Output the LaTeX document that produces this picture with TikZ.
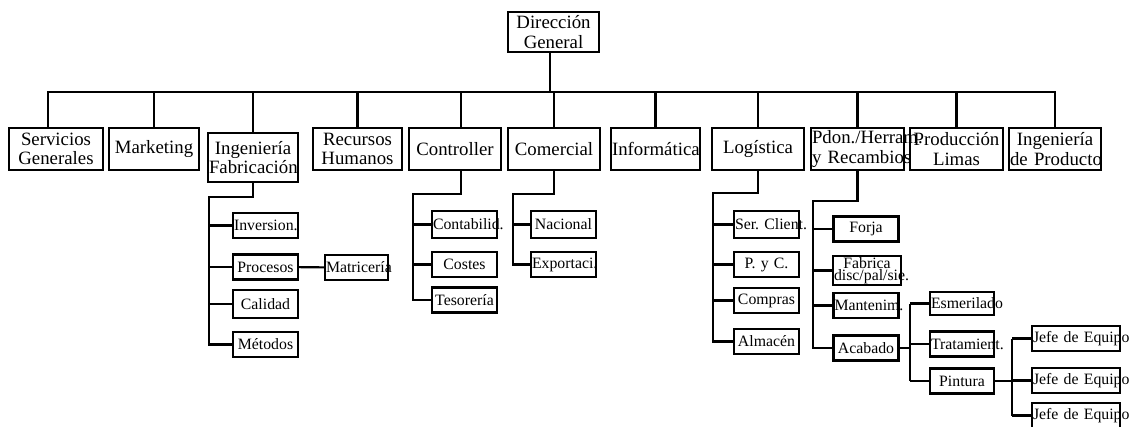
\documentclass[tikz,border=0pt]{standalone}
\usepackage{fontspec}
\setmainfont{Liberation Serif}
\usetikzlibrary{positioning}

\begin{document}
\begin{tikzpicture}[
    x=1pt, y=-1pt,
    every node/.style={inner sep=1pt},
    link/.style={draw=black, line width=2.1pt},
    unitbox/.style={
        rectangle, draw=black, line width=2.1pt, align=center,
        minimum width=92pt, minimum height=42pt, text width=90pt,
        font=\fontsize{18.8}{19.5}\selectfont,
        execute at begin node={\hyphenpenalty=10000\relax\frenchspacing}
    },
    subbox/.style={
        rectangle, draw=black, line width=2.1pt, align=center,
        minimum width=65pt, minimum height=25pt, text width=63pt,
        font=\fontsize{15.8}{16}\selectfont,
        execute at begin node={\hyphenpenalty=10000\relax\frenchspacing}
    }
]
\useasboundingbox[fill=white] (0,0) rectangle (1130,426);

% Top
\node[unitbox, minimum width=91pt, text width=89pt, minimum height=40pt] (dg) at (553.5,32) {Dirección\\General};

% Row 1
\node[unitbox, minimum width=94pt, text width=92pt] (sg) at (56,149) {Servicios\\Generales};
\node[unitbox, minimum width=90pt, text width=88pt] (mk) at (154,149) {Marketing};
\node[unitbox, minimum width=90pt, text width=88pt, minimum height=49pt] (ingf) at (253,157.5) {Ingeniería\\Fabricación};
\node[unitbox, minimum width=89pt, text width=87pt] (rrhh) at (357.5,149) {Recursos\\Humanos};
\node[unitbox] (ctrl) at (455,149) {Controller};
\node[unitbox] (com) at (554,149) {Comercial};
\node[unitbox, minimum width=89pt, text width=87pt] (inf) at (655.5,149) {Informática};
\node[unitbox] (log) at (758,149) {Logística};
\node[unitbox, minimum width=93pt, text width=91pt] (pdon) at (857.5,149) {Pdon./Herram.\\\mbox{y Recambios}};
\node[unitbox, minimum width=93pt, text width=91pt] (prod) at (956.5,149) {Producción\\Limas};
\node[unitbox] (ingp) at (1055,149) {Ingeniería\\\mbox{de Producto}};

% Ingenieria Fabricacion
\node[subbox] (inversion) at (265.5,225.5) {Inversion.};
\node[subbox] (procesos) at (265.5,267) {Procesos};
\node[subbox, minimum height=28pt] (calidad) at (265.5,304) {Calidad};
\node[subbox] (metodos) at (265.5,344.5) {Métodos};
\node[subbox, minimum width=63pt, text width=61pt] (matriceria) at (356.5,267.5) {Matricería};

% Controller
\node[subbox, minimum height=27pt] (contab) at (464.5,224.5) {Contabilid.};
\node[subbox] (costes) at (464.5,264.5) {Costes};
\node[subbox] (tesoreria) at (464.5,300) {Tesorería};

% Comercial
\node[subbox, minimum height=27pt] (nacional) at (563.5,224.5) {Nacional};
\node[subbox] (exportaci) at (563.5,264.5) {Exportaci.};

% Logistica
\node[subbox, minimum height=27pt] (serclient) at (766.5,224.5) {\mbox{Ser. Client.}};
\node[subbox] (pyc) at (766.5,264.5) {P. y C.};
\node[subbox] (compras) at (766.5,300.5) {Compras};
\node[subbox] (almacen) at (766.5,341.5) {Almacén};

% Pdon./Herram.
\node[subbox] (forja) at (866,229) {Forja};
\node[subbox, minimum width=68pt, text width=66pt,
      font=\fontsize{15.8}{7}\selectfont] (fabrica) at (867,270.5) {Fabrica\\disc/pal/sie.};
\node[subbox] (mantenim) at (866,305.5) {Mantenim.};
\node[subbox] (acabado) at (866,348) {Acabado};

% Acabado
\node[subbox, minimum width=64pt, text width=62pt, minimum height=23pt] (esmerilado) at (962,303.5) {Esmerilado};
\node[subbox, minimum width=64pt, text width=62pt] (tratamient) at (962,344) {Tratamient.};
\node[subbox, minimum width=64pt, text width=62pt] (pintura) at (962,381) {Pintura};

% Pintura
\node[subbox, minimum width=88pt, text width=86pt] (jefea) at (1076,338.5) {\mbox{Jefe de Equipo}};
\node[subbox, minimum width=88pt, text width=86pt] (jefeb) at (1076,380.5) {\mbox{Jefe de Equipo}};
\node[subbox, minimum width=88pt, text width=86pt] (jefec) at (1076,415.5) {\mbox{Jefe de Equipo}};

% Spine points
\coordinate (bus) at (550,92);
\coordinate (ingfs) at (209,197);
\coordinate (ctrls) at (413,194);
\coordinate (coms) at (513,194);
\coordinate (logs) at (713,193);
\coordinate (pdons) at (813,201);
\coordinate (acas) at (910,348);
\coordinate (pints) at (1012,381);

% Connectors
\draw[link] ([xshift=-3.5]dg.south) -- (bus);
\draw[link] ([xshift=-8]sg.north) |- (bus);
\draw[link] ([xshift=6]ctrl.north) |- (bus);
\foreach \n in {mk,ingf,rrhh,com,inf,log,pdon,prod,ingp}
    \draw[link] (\n.north) |- (bus);

\draw[link] (ingf.south) |- (ingfs) |- (metodos.west);
\foreach \c in {inversion,procesos,calidad}
    \draw[link] (ingfs |- \c.west) -- (\c.west);
\draw[link] (procesos) -- (matriceria);

\draw[link] ([xshift=6]ctrl.south) |- (ctrls) |- (tesoreria.west);
\foreach \c in {contab,costes}
    \draw[link] (ctrls |- \c.west) -- (\c.west);

\draw[link] (com.south) |- (coms) |- (exportaci.west);
\draw[link] (coms |- nacional.west) -- (nacional.west);

\draw[link] (log.south) |- (logs) |- (almacen.west);
\foreach \c in {serclient,pyc,compras}
    \draw[link] (logs |- \c.west) -- (\c.west);

\draw[link] (pdon.south) |- (pdons) |- (acabado.west);
\foreach \c in {forja,fabrica,mantenim}
    \draw[link] (pdons |- \c.west) -- (\c.west);

\draw[link] (acabado.east) -- (acas);
\draw[link] (acas |- esmerilado.west) -- (acas |- pintura.west);
\foreach \c in {esmerilado,tratamient,pintura}
    \draw[link] (acas |- \c.west) -- (\c.west);

\draw[link] (pintura.east) -- (pints);
\draw[link] (pints |- jefea.west) -- (pints |- jefec.west);
\foreach \c in {jefea,jefeb,jefec}
    \draw[link] (pints |- \c.west) -- (\c.west);

\end{tikzpicture}
\end{document}
